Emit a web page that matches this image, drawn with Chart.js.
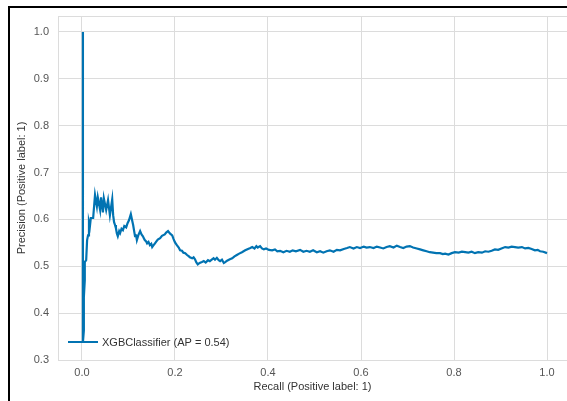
<!DOCTYPE html>
<html>
<head>
<meta charset="utf-8">
<script src="https://cdn.jsdelivr.net/npm/chart.js@4.4.0/dist/chart.umd.min.js"></script>
<style>
  html, body { margin: 0; padding: 0; background: #fff; overflow: hidden; }
  #wrap { position: relative; width: 567px; height: 401px; }
  #frame { position: absolute; left: 8px; top: 6px; width: 600px; height: 500px;
           border-top: 2px solid #000; border-left: 2px solid #000; pointer-events: none; }
</style>
</head>
<body>
<div id="wrap">
  <canvas id="prChart" width="567" height="401"></canvas>
  <div id="frame"></div>
</div>
<script>
// recall / precision
var recall = [0.002, 0.002, 0.004, 0.004, 0.006, 0.006, 0.009, 0.011, 0.013, 0.015, 0.017, 0.019,
  0.024, 0.028, 0.032, 0.034, 0.039, 0.041, 0.045, 0.047, 0.052, 0.056, 0.060, 0.065, 0.067,
  0.069, 0.071, 0.073, 0.075, 0.077, 0.080, 0.082, 0.085, 0.088, 0.091, 0.095, 0.098, 0.101,
  0.105, 0.108, 0.110, 0.112, 0.114, 0.116, 0.118, 0.121, 0.125, 0.128, 0.131, 0.133, 0.135,
  0.138, 0.140, 0.143, 0.146, 0.149, 0.151, 0.154, 0.157, 0.160, 0.163, 0.168, 0.172, 0.178,
  0.181, 0.185, 0.189, 0.194, 0.197, 0.200, 0.204, 0.208, 0.211, 0.215, 0.218, 0.222, 0.226,
  0.230, 0.232, 0.237, 0.240, 0.243, 0.246, 0.249, 0.253, 0.258, 0.262, 0.266, 0.271, 0.275,
  0.279, 0.283, 0.286, 0.290, 0.294, 0.297, 0.301, 0.305, 0.308, 0.312, 0.318, 0.323, 0.328,
  0.333, 0.338, 0.344, 0.351, 0.357, 0.362, 0.366, 0.371, 0.375, 0.378, 0.383, 0.387, 0.391,
  0.396, 0.402, 0.409, 0.415, 0.420, 0.426, 0.433, 0.440, 0.447, 0.453, 0.460, 0.469, 0.476,
  0.483, 0.490, 0.497, 0.505, 0.512, 0.519, 0.526, 0.533, 0.541, 0.548, 0.555, 0.563, 0.570,
  0.576, 0.584, 0.591, 0.598, 0.606, 0.612, 0.619, 0.627, 0.634, 0.641, 0.648, 0.655, 0.662,
  0.670, 0.677, 0.684, 0.691, 0.698, 0.705, 0.712, 0.720, 0.727, 0.734, 0.741, 0.748, 0.755,
  0.762, 0.770, 0.776, 0.781, 0.788, 0.795, 0.802, 0.810, 0.817, 0.824, 0.831, 0.838, 0.845,
  0.852, 0.860, 0.867, 0.874, 0.881, 0.888, 0.895, 0.902, 0.910, 0.917, 0.924, 0.931, 0.938,
  0.946, 0.953, 0.960, 0.967, 0.974, 0.980, 0.985, 0.992, 1.000];
var precision = [1.000, 0.338, 0.363, 0.434, 0.470, 0.509, 0.513, 0.556, 0.566, 0.594, 0.585, 0.603,
  0.603, 0.652, 0.628, 0.647, 0.620, 0.647, 0.615, 0.645, 0.620, 0.641, 0.609, 0.643, 0.609,
  0.594, 0.588, 0.581, 0.570, 0.564, 0.575, 0.571, 0.580, 0.577, 0.586, 0.583, 0.592, 0.598,
  0.611, 0.597, 0.588, 0.576, 0.564, 0.568, 0.556, 0.566, 0.575, 0.568, 0.564, 0.560, 0.556,
  0.553, 0.549, 0.552, 0.545, 0.548, 0.541, 0.545, 0.549, 0.553, 0.557, 0.560, 0.565, 0.568,
  0.572, 0.575, 0.570, 0.566, 0.558, 0.551, 0.545, 0.540, 0.534, 0.533, 0.529, 0.528, 0.524,
  0.521, 0.519, 0.517, 0.519, 0.515, 0.508, 0.504, 0.507, 0.509, 0.511, 0.508, 0.513, 0.511,
  0.514, 0.517, 0.514, 0.518, 0.513, 0.511, 0.514, 0.507, 0.509, 0.512, 0.515, 0.517, 0.521,
  0.524, 0.527, 0.530, 0.534, 0.537, 0.539, 0.541, 0.538, 0.543, 0.540, 0.543, 0.538, 0.536,
  0.538, 0.535, 0.534, 0.536, 0.532, 0.533, 0.530, 0.533, 0.531, 0.534, 0.532, 0.535, 0.531,
  0.533, 0.531, 0.534, 0.530, 0.532, 0.529, 0.532, 0.534, 0.531, 0.535, 0.534, 0.537, 0.539,
  0.541, 0.538, 0.541, 0.539, 0.542, 0.540, 0.541, 0.539, 0.542, 0.540, 0.538, 0.541, 0.543,
  0.540, 0.544, 0.541, 0.539, 0.542, 0.543, 0.540, 0.538, 0.536, 0.534, 0.532, 0.530, 0.529,
  0.528, 0.528, 0.526, 0.527, 0.525, 0.528, 0.530, 0.529, 0.531, 0.530, 0.529, 0.531, 0.528,
  0.530, 0.529, 0.532, 0.531, 0.533, 0.536, 0.535, 0.538, 0.541, 0.540, 0.542, 0.541, 0.540,
  0.541, 0.538, 0.539, 0.537, 0.534, 0.535, 0.532, 0.531, 0.528];
var xTicks = [0.0, 0.2, 0.4, 0.6, 0.8, 1.0];
var yTicks = [0.3, 0.4, 0.5, 0.6, 0.7, 0.8, 0.9, 1.0];
var seriesLabel = 'XGBClassifier (AP = 0.54)';

var points = recall.map(function (r, i) { return { x: r, y: precision[i] }; });

var lineColor = '#0173b2';
var gridColor = '#dcdcdc';

// legend in lower left of the plot and the top edge of the axes box
var insideLegend = {
    id: 'insideLegend',
    afterDatasetsDraw: function (chart) {
        var ctx = chart.ctx, a = chart.chartArea;
        ctx.save();
        ctx.strokeStyle = gridColor;
        ctx.lineWidth = 1;
        ctx.beginPath();
        ctx.moveTo(a.left, a.top + 0.5);
        ctx.lineTo(a.right, a.top + 0.5);
        ctx.stroke();

        var y = 342;
        ctx.strokeStyle = lineColor;
        ctx.lineWidth = 2;
        ctx.beginPath();
        ctx.moveTo(68, y);
        ctx.lineTo(98, y);
        ctx.stroke();
        ctx.fillStyle = '#333';
        ctx.font = '11px "Liberation Sans", Arial, sans-serif';
        ctx.textBaseline = 'middle';
        ctx.fillText(chart.data.datasets[0].label, 102, y + 1);
        ctx.restore();
    }
};

new Chart('prChart', {
    type: 'line',
    data: {
        datasets: [
            {
                label: seriesLabel,
                data: points,
                borderColor: lineColor,
                borderWidth: 2.2,
                pointRadius: 0,
                tension: 0,
                fill: false
            }
        ]
    },
    options: {
        responsive: false,
        animation: false,
        layout: { padding: { top: 16, right: 0, left: 0, bottom: 0 } },
        scales: {
            x: {
                type: 'linear',
                min: -0.0516,
                max: 1.043,
                afterBuildTicks: function (s) { s.ticks = xTicks.map(function (v) { return { value: v }; }); },
                afterFit: function (s) { s.height = 41; },
                grid: { color: gridColor, drawTicks: false },
                border: { color: gridColor },
                ticks: {
                    padding: 6,
                    color: '#555',
                    font: { family: '"Liberation Sans", Arial, sans-serif', size: 11 },
                    callback: function (v) { return v.toFixed(1); }
                },
                title: {
                    display: true,
                    text: 'Recall (Positive label: 1)',
                    color: '#333',
                    font: { family: '"Liberation Sans", Arial, sans-serif', size: 11 },
                    padding: { top: 0, bottom: 7 }
                }
            },
            y: {
                min: 0.3,
                max: 1.034,
                afterBuildTicks: function (s) { s.ticks = yTicks.map(function (v) { return { value: v }; }); },
                afterFit: function (s) { s.width = 58; },
                grid: { color: gridColor, drawTicks: false },
                border: { color: gridColor },
                ticks: {
                    padding: 9,
                    color: '#555',
                    font: { family: '"Liberation Sans", Arial, sans-serif', size: 11 },
                    callback: function (v) { return v.toFixed(1); }
                },
                title: {
                    display: true,
                    text: 'Precision (Positive label: 1)',
                    color: '#333',
                    font: { family: '"Liberation Sans", Arial, sans-serif', size: 11 },
                    padding: { top: 15, bottom: 0 }
                }
            }
        },
        plugins: {
            legend: { display: false },
            tooltip: { enabled: false }
        }
    },
    plugins: [insideLegend]
});
</script>
</body>
</html>
